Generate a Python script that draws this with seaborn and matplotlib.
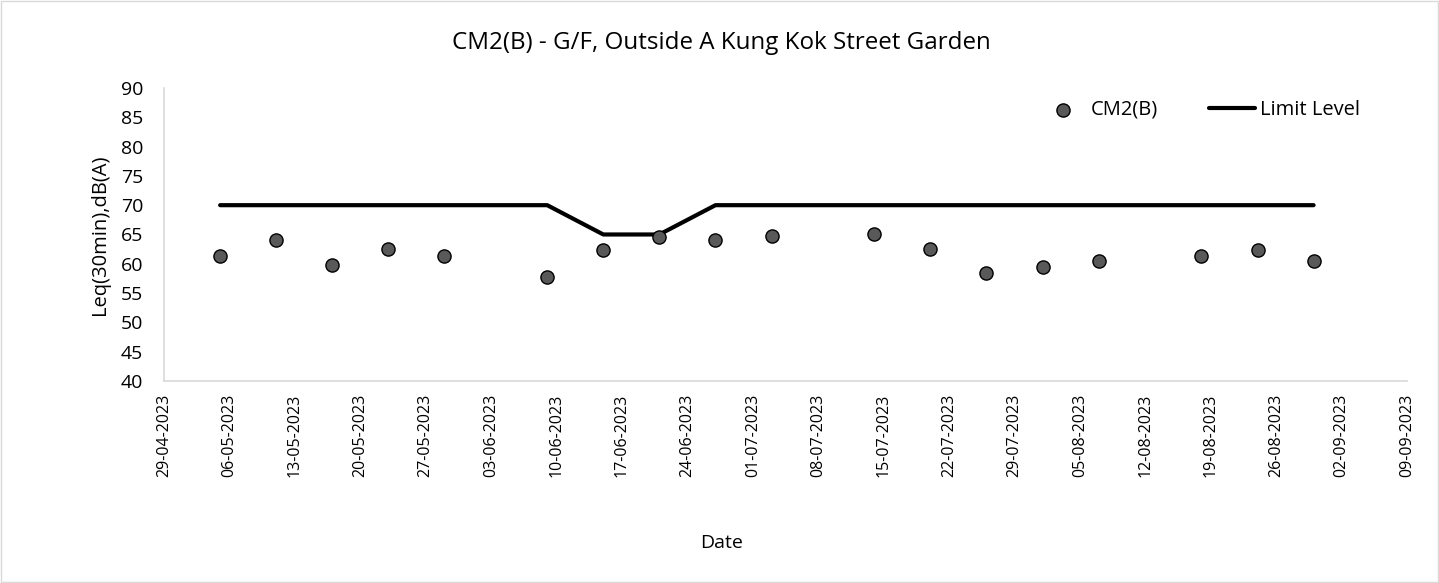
import pandas as pd
import seaborn as sns
import matplotlib.pyplot as plt
import matplotlib.dates as mdates

# measurement dates and results
dates = ['05-05-2023', '11-05-2023', '17-05-2023', '23-05-2023', '29-05-2023',
         '09-06-2023', '15-06-2023', '21-06-2023', '27-06-2023', '03-07-2023',
         '14-07-2023', '20-07-2023', '26-07-2023', '01-08-2023', '07-08-2023',
         '18-08-2023', '24-08-2023', '30-08-2023']
leq = [61.3, 64.1, 59.8, 62.6, 61.4,
       57.7, 62.4, 64.5, 64.1, 64.8,
       65.0, 62.6, 58.5, 59.5, 60.5,
       61.3, 62.4, 60.5]
limit = [70, 70, 70, 70, 70,
         70, 65, 65, 70, 70,
         70, 70, 70, 70, 70,
         70, 70, 70]

tick_dates = pd.date_range('2023-04-29', '2023-09-09', freq='7D')

df = pd.DataFrame({
    'Date': pd.to_datetime(dates, format='%d-%m-%Y'),
    'CM2(B)': leq,
    'Limit Level': limit,
})

sns.set_style('white')
plt.rcParams['font.family'] = ['Open Sans', 'DejaVu Sans']
plt.rcParams['text.color'] = 'black'
plt.rcParams['xtick.color'] = 'black'
plt.rcParams['ytick.color'] = 'black'
plt.rcParams['axes.labelcolor'] = 'black'

fig = plt.figure(figsize=(14.39, 5.83), dpi=100)
ax = fig.add_axes([0.114, 0.3465, 0.8638, 0.5026])

sns.scatterplot(data=df, x='Date', y='CM2(B)', ax=ax, s=90, color='#595959',
                edgecolor='black', linewidth=1.0, label='CM2(B)', zorder=3)
sns.lineplot(data=df, x='Date', y='Limit Level', ax=ax, color='black',
             linewidth=3, label='Limit Level', zorder=2)

ax.set_xlim(tick_dates[0], tick_dates[-1])
ax.set_ylim(40, 90)
ax.set_yticks(range(40, 91, 5))
ax.set_xticks(tick_dates)
ax.xaxis.set_major_formatter(mdates.DateFormatter('%d-%m-%Y'))
ax.tick_params(axis='x', rotation=90, labelsize=11.5, length=0, pad=9)
ax.tick_params(axis='y', labelsize=14, length=0, pad=15)

for side in ['top', 'right']:
    ax.spines[side].set_visible(False)
for side in ['left', 'bottom']:
    ax.spines[side].set_color('#d9d9d9')
    ax.spines[side].set_linewidth(1.2)

ax.set_xlabel('Date', fontsize=14, va='center')
ax.xaxis.set_label_coords((722 - 164) / 1243, (381 - 543) / 293)
ax.set_ylabel('Leq(30min),dB(A)', fontsize=14.5, va='center')
ax.yaxis.set_label_coords((100 - 164) / 1243, 0.5)

fig.text(721 / 1439, 1 - 43 / 583, 'CM2(B) - G/F, Outside A Kung Kok Street Garden',
         fontsize=17.4, ha='center', va='center')

ax.legend(ncol=2, loc='center right', bbox_to_anchor=(1370 / 1439, 1 - 110 / 583),
          bbox_transform=fig.transFigure, frameon=False, borderpad=0,
          fontsize=14.5, columnspacing=2.5, handlelength=2.3, handletextpad=0.25)

border = plt.Rectangle((0.001, 0.002), 0.998, 0.996, transform=fig.transFigure,
                       fill=False, edgecolor='#d9d9d9', linewidth=1)
fig.patches.append(border)

plt.savefig('out.png', dpi=100)
plt.close()
